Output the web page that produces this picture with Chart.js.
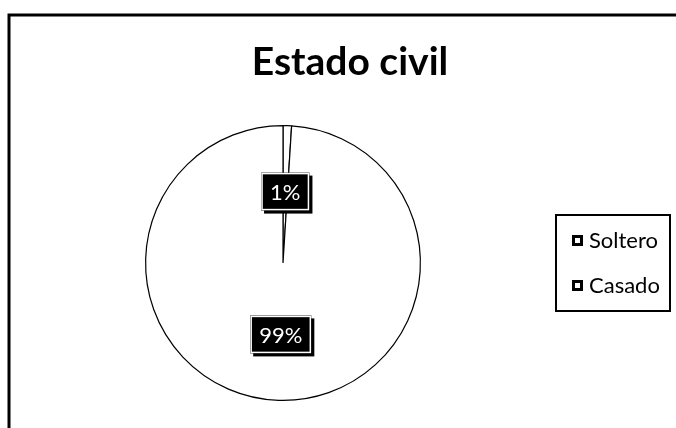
<!DOCTYPE html>
<html>
<head>
<meta charset="utf-8">
<script src="https://cdn.jsdelivr.net/npm/chart.js@4"></script>
<style>
  html, body { margin: 0; padding: 0; background: #fff; }
  #wrap { width: 676px; height: 428px; }
</style>
</head>
<body>
<div id="wrap"><canvas id="myChart" width="676" height="428"></canvas></div>
<script>
const categories = ['Soltero', 'Casado'];
const values = [1, 99];
const chartTitle = 'Estado civil';

const ctx = document.getElementById('myChart');

// frame, title, boxed legend and the black value tags
const extras = {
  id: 'extras',
  beforeDraw(chart) {
    const c = chart.ctx;
    c.save();
    c.fillStyle = '#fff';
    c.fillRect(0, 0, chart.width, chart.height);
    c.strokeStyle = '#000';
    c.lineWidth = 3;
    c.strokeRect(9, 15, chart.width + 20, chart.height + 20);
    c.restore();
  },
  afterDraw(chart, args, opts) {
    const c = chart.ctx;
    c.save();
    // title, centred over the whole chart as in the sheet
    c.fillStyle = '#000';
    c.font = 'bold 39px Lato';
    c.textAlign = 'center';
    c.textBaseline = 'middle';
    c.fillText(chartTitle, opts.titleX, opts.titleY);

    const lg = opts.legend;
    c.textAlign = 'left';
    c.strokeStyle = '#000';
    c.lineWidth = 2;
    c.strokeRect(lg.x, lg.y, lg.w, lg.h);
    c.font = '22px Lato';
    categories.forEach((name, i) => {
      const y = lg.y + lg.first + i * lg.step;
      c.fillStyle = '#000';
      c.fillRect(lg.x + 16, y - 5, 11, 11);
      c.fillStyle = '#fff';
      c.fillRect(lg.x + 19, y - 2, 5, 5);
      c.fillStyle = '#000';
      c.fillText(name, lg.x + 33, y + 1);
    });
    c.restore();
  },
  afterDatasetsDraw(chart, args, opts) {
    const c = chart.ctx;
    const meta = chart.getDatasetMeta(0);
    const total = values.reduce((a, v) => a + v, 0);
    c.save();
    c.font = '22px Lato';
    c.textAlign = 'center';
    c.textBaseline = 'middle';
    meta.data.forEach((arc, i) => {
      const p = arc.getProps(['x', 'y', 'startAngle', 'endAngle', 'outerRadius']);
      const mid = (p.startAngle + p.endAngle) / 2;
      const x = p.x + Math.cos(mid) * p.outerRadius * opts.offset;
      const y = p.y + Math.sin(mid) * p.outerRadius * opts.offset;
      const txt = Math.round(values[i] / total * 100) + '%';
      const w = c.measureText(txt).width + 18;
      const h = 38;
      c.fillStyle = '#000';
      c.fillRect(x - w / 2 + 3, y - h / 2 + 3, w, h);
      c.fillRect(x - w / 2, y - h / 2, w, h);
      c.strokeStyle = '#fff';
      c.lineWidth = 1.5;
      c.strokeRect(x - w / 2 + 1, y - h / 2 + 1, w - 2, h - 2);
      c.fillStyle = '#fff';
      c.fillText(txt, x, y + 1);
    });
    c.restore();
  }
};

new Chart(ctx, {
  type: 'pie',
  data: {
    labels: categories,
    datasets: [{
      data: values,
      backgroundColor: '#fff',
      borderColor: '#000',
      borderWidth: 1.2
    }]
  },
  plugins: [extras],
  options: {
    responsive: false,
    animation: false,
    layout: {
      padding: { left: 140, right: 250, top: 125, bottom: 27 }
    },
    plugins: {
      tooltip: { enabled: false },
      legend: { display: false },
      title: { display: false },
      extras: {
        offset: 0.52,
        titleX: 350,
        titleY: 62,
        legend: { x: 556, y: 215, w: 114, h: 96, first: 25, step: 45 }
      }
    }
  }
});
</script>
</body>
</html>
